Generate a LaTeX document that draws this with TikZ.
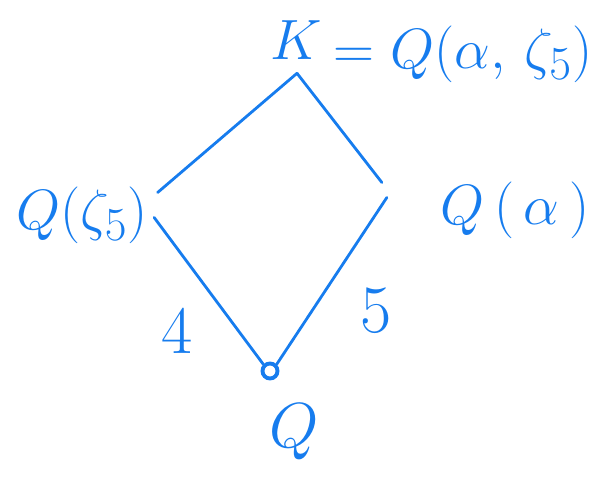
\documentclass[tikz,border=0pt]{standalone}
\usepackage{amsmath,amssymb}
\usepackage{tikz}
\usetikzlibrary{arrows.meta,positioning,calc}
\usepackage{xcolor}
\definecolor{penblue}{RGB}{22,124,238}

\begin{document}
\begin{tikzpicture}[node distance=0.2cm and 0.2cm, every node/.style={font=\Huge, text=penblue}]
\tikzset{field/.style={inner sep=1.5pt, scale=1.3, transform shape}}
\tikzset{degree/.style={inner sep=1.5pt, scale=1.55, transform shape}}
\tikzset{edge/.style={draw=penblue, line width=1.6pt, line cap=round}}
\useasboundingbox (0,0) rectangle (12.1,9.54);
\node[field] (K) at (5.92,8.74) {$K$};
\node[field, anchor=west] (kdef) at (6.6,8.45) {$=Q(\alpha,\,\zeta_5)$};
\node[field] (Qz) at (1.64,5.24) {$Q(\zeta_5)$};
\node[field] (Qa) at (10.3,5.34) {$Q\,(\,\alpha\,)$};
\node[circle, draw=penblue, line width=2.2pt, minimum size=0.3cm, inner sep=0pt] (dot) at (5.4,2.12) {};
\node[field, scale=1.12] (Q) at (5.88,0.9) {$Q$};
\node[degree] (four) at (3.55,2.9) {$4$};
\node[degree] (five) at (7.52,3.32) {$5$};
\draw[edge] ([xshift=0.02cm,yshift=-0.2cm]K.south) -- ([xshift=0.12cm,yshift=0.45cm]Qz.east);
\draw[edge] ([xshift=0.02cm,yshift=-0.2cm]K.south) -- ([xshift=-1.1cm,yshift=0.55cm]Qa.west);
\draw[edge] ([xshift=0.05cm,yshift=-0.05cm]Qz.east) -- (dot.north west);
\draw[edge] ([xshift=-1cm,yshift=0.25cm]Qa.west) -- (dot.north east);
\end{tikzpicture}
\end{document}
